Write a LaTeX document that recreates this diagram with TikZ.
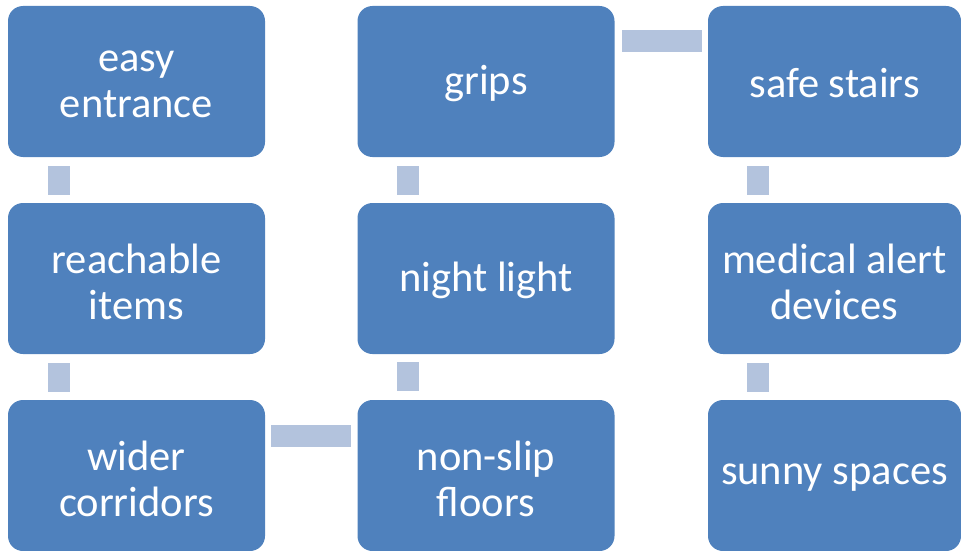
\documentclass[tikz,border=0pt]{standalone}
\usepackage{fontspec}
\setmainfont{Carlito}
\definecolor{boxblue}{HTML}{4F81BD}
\definecolor{linkblue}{HTML}{B3C3DD}
\newcommand{\tightsp}{\spaceskip=0.23em\relax}
\begin{document}
\begin{tikzpicture}[x=1pt,y=-1pt,
  stepbox/.style={fill=boxblue, rounded corners=15pt, minimum width=257pt, minimum height=151pt,
    inner sep=0pt},
  steptext/.style={text width=252pt, align=center, text=white, inner sep=0pt,
    font=\fontsize{42.5pt}{46pt}\selectfont},
  linkbar/.style={fill=linkblue, draw=none}]
\useasboundingbox (0,0) rectangle (961,551);
% boxes (centers)
\node[stepbox] (a) at (136.5,81.5) {};
\node[stepbox] (b) at (136.5,278.5) {};
\node[stepbox] (c) at (136.5,475.5) {};
\node[stepbox] (d) at (486,475.5) {};
\node[stepbox] (e) at (486,278.5) {};
\node[stepbox] (f) at (486,81.5) {};
\node[stepbox, minimum width=253pt] (g) at (834.5,81.5) {};
\node[stepbox, minimum width=253pt] (h) at (834.5,278.5) {};
\node[stepbox, minimum width=253pt] (i) at (834.5,475.5) {};
% texts
\node[steptext] (ta) at ([yshift=-3pt]a.center) {\tightsp easy\\entrance};
\node[steptext] (tb) at ([yshift=-3pt]b.center) {\tightsp reachable\\items};
\node[steptext] (tc) at ([yshift=-3pt]c.center) {\tightsp wider\\corridors};
\node[steptext] (td) at ([yshift=-3pt]d.center) {\tightsp non-slip\\floors};
\node[steptext] (te) at ([yshift=-2pt]e.center) {\tightsp night light};
\node[steptext] (tf) at ([yshift=-2pt]f.center) {\tightsp grips};
\node[steptext] (tg) at ([yshift=-2pt]g.center) {\tightsp safe stairs};
\node[steptext] (th) at ([yshift=-3pt]h.center) {\tightsp medical alert\\devices};
\node[steptext] (ti) at ([yshift=-2pt]i.center) {\tightsp sunny spaces};
% connectors
\fill[linkbar] ([xshift=-88.5pt,yshift=-9pt]a.south) rectangle ([xshift=-66.5pt,yshift=8pt]b.north);
\fill[linkbar] ([xshift=-88.5pt,yshift=-9pt]b.south) rectangle ([xshift=-66.5pt,yshift=8pt]c.north);
\fill[linkbar] ([xshift=6pt,yshift=50.5pt]c.east) rectangle ([xshift=-6pt,yshift=28.5pt]d.west);
\fill[linkbar] ([xshift=-89pt,yshift=-8pt]e.south) rectangle ([xshift=-67pt,yshift=9pt]d.north);
\fill[linkbar] ([xshift=-89pt,yshift=-9pt]f.south) rectangle ([xshift=-67pt,yshift=8pt]e.north);
\fill[linkbar] ([xshift=7pt,yshift=51.5pt]f.east) rectangle ([xshift=-6pt,yshift=29.5pt]g.west);
\fill[linkbar] ([xshift=-87.5pt,yshift=-9pt]g.south) rectangle ([xshift=-65.5pt,yshift=8pt]h.north);
\fill[linkbar] ([xshift=-87.5pt,yshift=-9pt]h.south) rectangle ([xshift=-65.5pt,yshift=8pt]i.north);
\end{tikzpicture}
\end{document}
